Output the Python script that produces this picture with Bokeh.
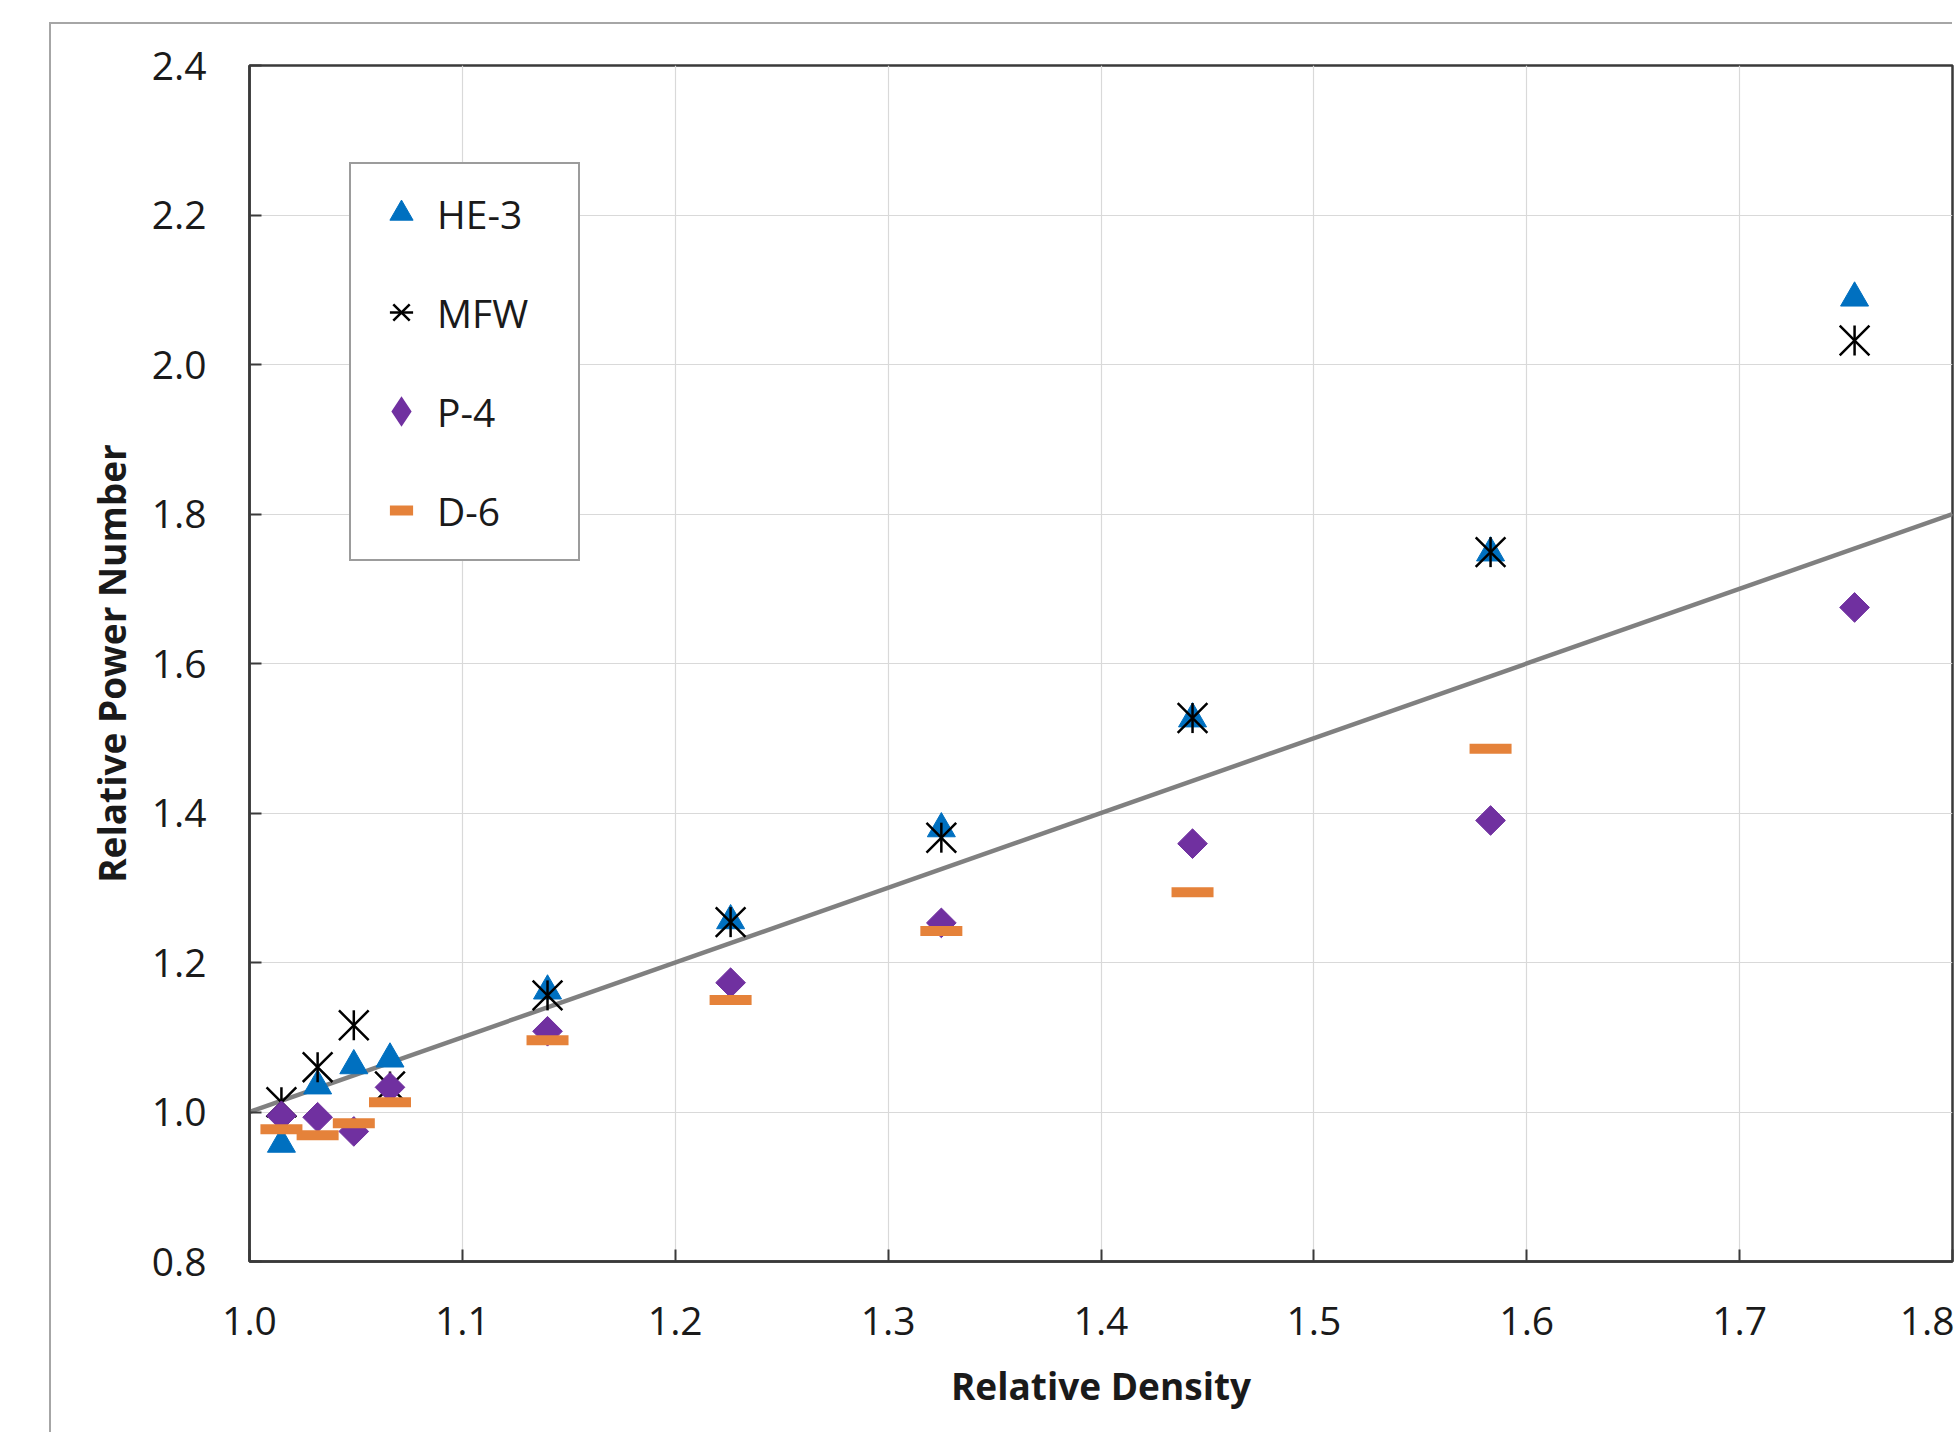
import math
from bokeh.plotting import figure
from bokeh.models import FixedTicker, PrintfTickFormatter, Legend, LegendItem, Range1d
from bokeh.embed import file_html
from bokeh.resources import INLINE

# ---- data ----
density = [1.015, 1.032, 1.049, 1.066, 1.140, 1.226, 1.325, 1.443, 1.583, 1.754]
he3 = [0.957, 1.035, 1.062, 1.071, 1.162, 1.256, 1.379, 1.526, 1.748, 2.089]
mfw = [1.013, 1.060, 1.116, 1.034, 1.156, 1.254, 1.367, 1.527, 1.749, 2.032]
p4 = [0.995, 0.993, 0.974, 1.033, 1.108, 1.173, 1.253, 1.359, 1.390, 1.675]
d6_density = [1.015, 1.032, 1.049, 1.066, 1.140, 1.226, 1.325, 1.443, 1.583]
d6 = [0.977, 0.969, 0.985, 1.013, 1.096, 1.150, 1.242, 1.294, 1.486]
fit_x = [1.0, 1.8]
fit_y = [1.0, 1.8]
x_ticks = [1.0, 1.1, 1.2, 1.3, 1.4, 1.5, 1.6, 1.7, 1.8]
y_ticks = [0.8, 1.0, 1.2, 1.4, 1.6, 1.8, 2.0, 2.2, 2.4]

FONT = "Open Sans"
AXC = "#3a3a3a"

p = figure(width=1903, height=1410, output_backend="svg", toolbar_location=None,
           x_range=Range1d(1.0, 1.8), y_range=Range1d(0.8, 2.4),
           min_border_left=198, min_border_top=41, min_border_bottom=173, min_border_right=2)
p.margin = (24, 0, 0, 51)
p.styles = {"box-shadow": "-2px -2px 0 0 #a6a6a6"}

p.outline_line_color = AXC
p.outline_line_width = 2.5
p.background_fill_color = "white"
p.border_fill_color = "white"

for ax, ticks in ((p.xaxis[0], x_ticks), (p.yaxis[0], y_ticks)):
    ax.ticker = FixedTicker(ticks=ticks)
    ax.formatter = PrintfTickFormatter(format="%.1f")
    ax.axis_line_color = AXC
    ax.axis_line_width = 2.5
    ax.major_tick_line_color = AXC
    ax.major_tick_line_width = 2
    ax.major_tick_in = 12
    ax.major_tick_out = 0
    ax.minor_tick_line_color = None
    ax.major_label_text_font = FONT
    ax.major_label_text_font_size = "39px"
    ax.major_label_text_color = "#1a1a1a"
    ax.axis_label_text_font = FONT
    ax.axis_label_text_font_size = "37px"
    ax.axis_label_text_font_style = "bold"
    ax.axis_label_text_color = "#1a1a1a"

p.xaxis.axis_label = "Relative Density"
p.yaxis.axis_label = "Relative Power Number"
p.xaxis.major_label_standoff = 45
p.yaxis.major_label_standoff = 43
p.xaxis.axis_label_standoff = 22
p.yaxis.axis_label_standoff = 12

p.xgrid.grid_line_color = "#d9d9d9"
p.ygrid.grid_line_color = "#d9d9d9"
p.xgrid.grid_line_width = 1.2
p.ygrid.grid_line_width = 1.2

p.line(fit_x, fit_y, line_color="#808080", line_width=4.5)

r_he = p.scatter(density, he3, marker="triangle", size=28, fill_color="#0070C0",
                 line_color="#0070C0", line_width=1)
r_mx = p.scatter(density, mfw, marker="x", size=42, line_color="black", line_width=2.5)
r_mv = p.scatter(density, mfw, marker="dash", angle=math.pi / 2, size=30,
                 line_color="black", line_width=2.5)
r_p4 = p.scatter(density, p4, marker="square", angle=math.pi / 4, size=21,
                 fill_color="#7030A0", line_color="#7030A0", line_width=1)
r_d6 = p.scatter(d6_density, d6, marker="dash", size=42, line_color="#E5823A",
                 line_width=10)

# hidden twin of P-4 used only for its legend glyph (legend glyphs ignore marker angle)
r_p4_leg = p.scatter(density, p4, marker="diamond", size=24,
                     fill_color="#7030A0", line_color="#7030A0", line_width=4,
                     line_join="miter", visible=False)

legend = Legend(items=[
    LegendItem(label="HE-3", renderers=[r_he]),
    LegendItem(label="MFW", renderers=[r_mx, r_mv]),
    LegendItem(label="P-4", renderers=[r_p4_leg]),
    LegendItem(label="D-6", renderers=[r_d6]),
], location=(100, 700))
legend.border_line_color = AXC
legend.border_line_width = 2
legend.background_fill_color = "white"
legend.background_fill_alpha = 1
legend.inactive_fill_alpha = 0
legend.label_text_font = FONT
legend.label_text_font_size = "39px"
legend.label_text_color = "#1a1a1a"
legend.padding = 20
legend.glyph_width = 60
legend.glyph_height = 58
legend.label_height = 58
legend.label_width = 121
legend.spacing = 41
legend.label_standoff = 6
legend.margin = 0
p.add_layout(legend, "center")

open("out.html", "w").write(file_html(p, INLINE))
